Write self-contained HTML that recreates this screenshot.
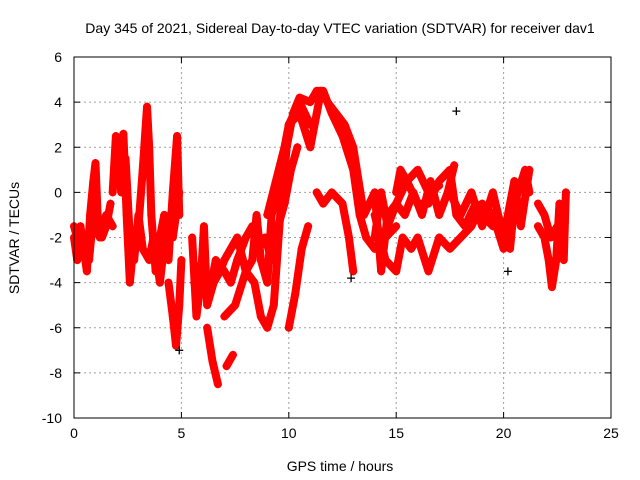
<!DOCTYPE html>
<html><head><meta charset="utf-8"><style>
body{margin:0;background:#fff}
svg{display:block;font-family:"Liberation Sans",sans-serif}
</style></head><body>
<svg id="chart" width="640" height="480">
<text x="340" y="33" font-size="14" text-anchor="middle">Day 345 of 2021, Sidereal Day-to-day VTEC variation (SDTVAR) for receiver dav1</text>
<text x="340" y="471" font-size="14" text-anchor="middle">GPS time / hours</text>
<text x="19" y="238" font-size="14" text-anchor="middle" transform="rotate(-90 19 238)">SDTVAR / TECUs</text>
<g id="grid"></g><g id="ticks"></g><g id="marks"></g>
<rect x="74" y="57" width="537" height="361" fill="none" stroke="#000" stroke-width="1"/>
</svg>
<script>
const xTicks=[0,5,10,15,20,25];
const yTicks=[-10,-8,-6,-4,-2,0,2,4,6];
const traceA=[[0,-2],[0.15,-3],[0.3,-1.5],[0.45,-2.5],[0.6,-3.5],[0.75,-1],[0.9,0.5],[1.0,1.3],[1.1,-1],[1.3,-2],[1.5,-1.5],[1.7,-0.5]];
const traceA2=[[0,-1.5],[0.3,-2.5],[0.5,-2],[0.7,-3],[0.9,-1],[1.2,-2],[1.5,-1],[1.8,-1.5]];
const traceB=[[1.8,0],[1.95,2.5],[2.1,1],[2.3,2.6],[2.45,-1],[2.6,-4],[2.8,-2],[3.0,-1.5],[3.2,1],[3.4,3.8],[3.5,2],[3.6,-1],[3.8,-3.5],[4.0,-2],[4.2,-1],[4.4,-3],[4.6,0],[4.8,2.5],[4.9,-1]];
const traceB2=[[2.0,1.5],[2.2,0],[2.4,1.5],[2.6,-2],[2.8,-3],[3.0,-1],[3.2,-2.5],[3.5,-3],[3.7,-2],[4.0,-4],[4.3,-1.5],[4.6,-2],[4.9,0]];
const traceC=[[4.4,-4],[4.6,-5.5],[4.75,-6.8],[4.9,-5],[5.0,-3]];
const traceD=[[5.5,-2],[5.7,-5.5],[5.9,-4],[6.05,-1.5],[6.2,-5],[6.5,-4],[6.8,-3.5],[7.0,-3],[7.3,-2.5],[7.6,-2],[8.0,-3.5],[8.3,-3],[8.5,-1],[8.7,-3],[9.0,-4],[9.2,-1],[9.5,0],[9.8,1],[10.0,3],[10.5,4],[11.0,3]];
const traceD2=[[5.6,-4],[6.0,-3],[6.3,-4.5],[6.6,-3],[7.0,-3.5],[7.3,-4],[7.6,-3],[8.0,-2],[8.3,-1.5],[8.6,-2.5],[8.9,-2],[9.2,-3],[9.5,-1.5],[9.8,-0.5],[10.1,1],[10.4,2]];
const traceE=[[6.2,-6],[6.45,-7.5],[6.7,-8.5]];
const traceE2=[[7.1,-7.7],[7.4,-7.2]];
const traceF=[[7.0,-5.5],[7.5,-5],[8.0,-3.5],[8.4,-4],[8.7,-5.5],[9.0,-6],[9.3,-5],[9.6,-1],[9.9,2],[10.2,3.5],[10.5,4.2],[11.0,4],[11.3,4.5],[11.6,4.5],[12.0,3.5],[12.5,2.5],[13.0,1],[13.3,-1],[13.6,-2],[14.0,-2.5],[14.5,-2],[15.0,-1.5]];
const traceG=[[10.0,-6],[10.3,-4.5],[10.6,-2.5],[10.9,-1.5]];
const traceG2=[[11.3,0],[11.6,-0.5],[12.0,0],[12.5,-0.5],[12.8,-2],[13.0,-3.5]];
const traceH=[[9.0,-1],[9.4,0.5],[9.8,2],[10.0,3],[10.5,3.5],[11.0,2],[11.3,3.5],[11.5,4.5],[11.8,4],[12.2,3.5],[12.6,3],[13.0,2],[13.5,-1],[14.0,0],[14.3,-3.5],[14.6,-1],[15.0,-0.5],[15.5,0.5],[16.0,-0.5],[16.5,-0.5],[17.0,0.5],[17.5,1],[17.8,-1],[18.2,-1.5],[18.7,-0.5],[19.0,-1],[19.5,-1.5],[20.0,-1.5],[20.3,-2.5],[20.5,-0.5],[21.0,1],[21.2,0]];
const traceI=[[14.0,-1],[14.5,-3],[15.0,-3.5],[15.3,-2],[15.7,-2.5],[16.0,-2],[16.5,-3.5],[17.0,-2],[17.5,-2.5],[18.0,-2],[18.5,-1.5],[19.0,-0.5],[19.5,-1],[20.0,-2.5]];
const traceK=[[15.0,0],[15.2,1],[15.5,0.5],[16.0,1],[16.5,0],[17.0,0.3]];
const traceL=[[14.0,-2],[14.3,0],[14.6,-1.5],[15.0,-0.5],[15.4,-1],[15.8,0],[16.2,-1],[16.6,0.5],[17.0,-1],[17.4,0],[17.7,1.2]];
const traceM=[[17.5,0],[18.0,-1],[18.5,0],[19.0,-1.5],[19.5,0],[20.0,-2],[20.5,0.5],[20.8,-1.5],[21.2,1]];
const traceJ=[[21.6,-1.5],[21.9,-2],[22.1,-3],[22.25,-4.2],[22.45,-3],[22.6,-0.5],[22.8,-3],[22.9,0]];
const traceJ2=[[21.6,-0.5],[21.9,-1],[22.2,-2],[22.5,-1.5],[22.8,-2]];
const blackPts=[[17.8,3.6],[20.2,-3.5],[4.9,-7],[12.9,-3.8]];
const traces=[traceA,traceA2,traceB,traceB2,traceC,traceD,traceD2,traceE,traceE2,traceF,traceG,traceG2,traceH,traceI,traceK,traceL,traceM,traceJ,traceJ2];

const X0=74,X1=611,Y0=418,Y1=57;
function sx(v){return X0+(v-0)/(25-0)*(X1-X0);}
function sy(v){return Y0-(v+10)/16*(Y0-Y1);}
const NS="http://www.w3.org/2000/svg";
function mk(tag,attrs,parent){const e=document.createElementNS(NS,tag);for(const k in attrs)e.setAttribute(k,attrs[k]);parent.appendChild(e);return e;}
const grid=document.getElementById('grid'),ticks=document.getElementById('ticks'),marks=document.getElementById('marks');
xTicks.forEach(t=>{
  const x=sx(t);
  if(t>0&&t<25){const l=mk('line',{x1:x,x2:x,y1:Y1,y2:Y0,stroke:'#a0a0a0','stroke-dasharray':'2,3'},grid);
  
  }
  mk('line',{x1:x,x2:x,y1:Y0,y2:Y0-6,stroke:'#000'},ticks);
  mk('line',{x1:x,x2:x,y1:Y1,y2:Y1+6,stroke:'#000'},ticks);
  const tx=mk('text',{x:x,y:Y0+20,'font-size':14,'text-anchor':'middle'},ticks);
  tx.textContent=t;
  
  
});
yTicks.forEach(t=>{
  const y=sy(t);
  if(t>-10&&t<6){const l=mk('line',{x1:X0,x2:X1,y1:y,y2:y,stroke:'#a0a0a0','stroke-dasharray':'2,3'},grid);
  
  }
  mk('line',{x1:X0,x2:X0+6,y1:y,y2:y,stroke:'#000'},ticks);
  mk('line',{x1:X1,x2:X1-6,y1:y,y2:y,stroke:'#000'},ticks);
  const tx=mk('text',{x:X0-12,y:y+5,'font-size':14,'text-anchor':'end'},ticks);
  tx.textContent=t;
  
  
});
function plus(x,y,col,parent){
  mk('path',{d:`M${x-4} ${y}H${x+4}M${x} ${y-4}V${y+4}`,stroke:col,'stroke-width':1.3,fill:'none'},parent);
}
traces.forEach((tr,i)=>{
  const g=mk('g',{},marks);
  
  
  const pts=tr.map(p=>sx(p[0])+','+sy(p[1])).join(' ');
  mk('polyline',{points:pts,fill:'none',stroke:'#ff0000','stroke-width':8,'stroke-linejoin':'round','stroke-linecap':'round'},g);
  tr.forEach(p=>plus(sx(p[0]),sy(p[1]),'#ff0000',g));
});
const bg=mk('g',{},marks);


blackPts.forEach(p=>plus(sx(p[0]),sy(p[1]),'#000',bg));
</script>
</body></html>
